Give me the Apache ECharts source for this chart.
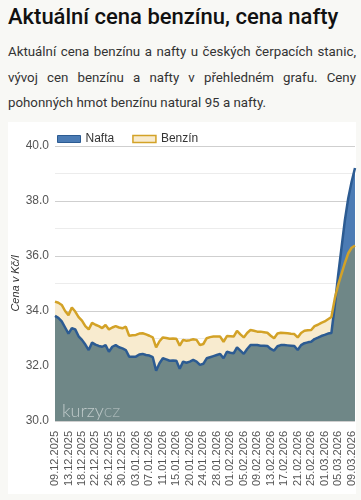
<!DOCTYPE html>
<html>
<head>
<meta charset="utf-8">
<script src="https://cdn.jsdelivr.net/npm/echarts@6/dist/echarts.min.js"></script>
<style>
  html, body { margin: 0; padding: 0; }
  body { width: 361px; height: 500px; background: #f8f8f5; position: relative; overflow: hidden; font-family: Roboto, sans-serif; }
  h1 { position: absolute; left: 8px; top: 0; margin: 0; font-size: 22px; font-weight: 500; color: #111; line-height: 34px; white-space: nowrap; }
  p { position: absolute; left: 8px; top: 39px; width: 348px; margin: 0; font-size: 13.3px; line-height: 25.7px; color: #333; text-align: justify; }
  .card { position: absolute; left: 8px; top: 122px; width: 348px; height: 372px; background: #fff; }
  #chart { position: absolute; left: 0; top: 0; width: 361px; height: 500px; }
</style>
</head>
<body>
<h1>Aktuální cena benzínu, cena nafty</h1>
<p>Aktuální cena benzínu a nafty u českých čerpacích stanic, vývoj cen benzínu a nafty v přehledném grafu. Ceny pohonných hmot benzínu natural 95 a nafty.</p>
<div class="card"></div>
<div id="chart"></div>
<script>
'use strict';

// datumy (kategorie)
var dny = [
  '09.12.2025','10.12.2025','11.12.2025','12.12.2025','13.12.2025','15.12.2025','16.12.2025','17.12.2025','18.12.2025','19.12.2025',
  '20.12.2025','21.12.2025','22.12.2025','23.12.2025','24.12.2025','25.12.2025','26.12.2025','27.12.2025','28.12.2025','29.12.2025',
  '30.12.2025','31.12.2025','01.01.2026','02.01.2026','03.01.2026','04.01.2026','05.01.2026','06.01.2026','07.01.2026','08.01.2026',
  '09.01.2026','10.01.2026','11.01.2026','12.01.2026','13.01.2026','14.01.2026','15.01.2026','16.01.2026','17.01.2026','19.01.2026',
  '20.01.2026','21.01.2026','22.01.2026','23.01.2026','24.01.2026','25.01.2026','26.01.2026','27.01.2026','28.01.2026','29.01.2026',
  '30.01.2026','31.01.2026','01.02.2026','02.02.2026','03.02.2026','04.02.2026','05.02.2026','06.02.2026','07.02.2026','08.02.2026',
  '09.02.2026','10.02.2026','11.02.2026','12.02.2026','13.02.2026','14.02.2026','15.02.2026','16.02.2026','17.02.2026','18.02.2026',
  '19.02.2026','20.02.2026','21.02.2026','22.02.2026','23.02.2026','24.02.2026','25.02.2026','26.02.2026','27.02.2026','28.02.2026',
  '01.03.2026','02.03.2026','03.03.2026','04.03.2026','05.03.2026','06.03.2026','07.03.2026','08.03.2026','09.03.2026','10.03.2026'
];

var benzin = [
  34.34,34.30,34.22,34.00,33.85,34.13,33.98,33.78,33.65,33.45,
  33.33,33.57,33.50,33.45,33.38,33.49,33.33,33.40,33.45,33.40,
  33.37,33.43,33.10,33.12,33.13,33.18,33.19,33.15,33.10,33.04,
  32.68,32.90,33.04,33.02,32.99,33.00,32.99,32.74,32.95,32.92,
  32.94,32.97,32.95,32.76,32.80,33.01,33.05,33.07,33.07,33.07,
  32.88,33.09,33.08,33.07,33.28,33.15,33.04,33.20,33.31,33.28,
  33.25,33.25,33.23,33.21,33.10,33.01,33.18,33.21,33.20,33.19,
  33.17,33.16,33.04,33.20,33.28,33.30,33.31,33.45,33.50,33.57,
  33.62,33.70,33.78,34.45,34.95,35.35,35.75,36.10,36.30,36.38
];

var nafta = [
  33.82,33.75,33.62,33.40,33.18,33.38,33.33,33.08,32.95,32.78,
  32.58,32.85,32.78,32.73,32.70,32.76,32.52,32.70,32.76,32.68,
  32.64,32.58,32.34,32.34,32.34,32.42,32.44,32.40,32.38,32.32,
  31.83,32.10,32.28,32.24,32.19,32.20,32.19,31.90,32.16,32.12,
  32.16,32.22,32.16,32.04,32.08,32.28,32.32,32.36,32.40,32.44,
  32.28,32.52,32.48,32.46,32.68,32.56,32.44,32.62,32.76,32.76,
  32.76,32.74,32.74,32.73,32.62,32.56,32.72,32.76,32.76,32.75,
  32.74,32.73,32.58,32.76,32.83,32.86,32.88,32.98,33.03,33.09,
  33.13,33.18,33.20,34.20,35.30,36.30,37.30,38.10,38.70,39.20
];

// spodni cast (kde se obe plochy prekryvaji)
var spodek = nafta.map(function (v, i) { return Math.min(v, benzin[i]); });

var modra = '#4b7bb4', modraCara = '#2c5b92';
var zluta = '#d3a227', bezova = '#f8ebcf', seda = '#6f8787';

var myChart = echarts.init(document.getElementById('chart'));
var option = {
    animation: false,
    legend: {
        left: 52,
        top: 128,
        itemWidth: 23,
        itemHeight: 7,
        itemGap: 18,
        textStyle: { fontSize: 12, color: '#333', fontFamily: 'Liberation Sans, Arial, sans-serif' },
        data: [
            { name: 'Nafta', icon: 'rect', itemStyle: { color: modra, borderColor: modraCara, borderWidth: 1 } },
            { name: 'Benzín', icon: 'rect', itemStyle: { color: bezova, borderColor: zluta, borderWidth: 1.5 } }
        ]
    },
    grid: { left: 55, right: 6, top: 146, bottom: 79 },
    xAxis: {
        type: 'category',
        data: dny,
        boundaryGap: false,
        axisLine: { show: false },
        axisTick: { show: false },
        axisLabel: {
            rotate: 90,
            interval: 3,
            margin: 10,
            fontSize: 11,
            color: '#555',
            fontFamily: 'Liberation Sans, Arial, sans-serif'
        }
    },
    yAxis: {
        type: 'value',
        min: 30,
        max: 40,
        interval: 2,
        name: 'Cena v Kč/l',
        nameLocation: 'middle',
        nameGap: 34,
        nameMoveOverlap: false,
        nameTextStyle: { fontStyle: 'italic', fontSize: 11, color: '#333', fontFamily: 'Liberation Sans, Arial, sans-serif' },
        axisLine: { show: false },
        axisTick: { show: false },
        axisLabel: {
            margin: 6,
            fontSize: 12,
            color: '#555',
            fontFamily: 'Liberation Sans, Arial, sans-serif',
            formatter: function (v) { return v.toFixed(1); }
        },
        splitLine: { lineStyle: { color: '#cfcfcf', width: 1 } },
        minorTick: { show: false, splitNumber: 2 },
        minorSplitLine: { show: true, lineStyle: { color: '#ececec', width: 1 } }
    },
    graphic: [{
        type: 'text',
        left: 62,
        top: 402,
        z: 20,
        style: {
            text: '{a|kurzy}{b|cz}',
            rich: {
                a: { fontSize: 18, fontWeight: 300, fontFamily: 'Lato, Open Sans, sans-serif', fill: 'rgba(255,255,255,0.55)' },
                b: { fontSize: 18, fontWeight: 300, fontFamily: 'Lato, Open Sans, sans-serif', fill: 'rgba(255,255,255,0.38)' }
            }
        }
    }],
    series: [
        {
            name: 'Nafta', type: 'line', data: nafta, symbol: 'none', z: 1, silent: true,
            lineStyle: { width: 0 },
            areaStyle: { color: modra, opacity: 1, origin: 'start' }
        },
        {
            name: 'Benzín', type: 'line', data: benzin, symbol: 'none', z: 2, silent: true,
            lineStyle: { width: 0 },
            areaStyle: { color: bezova, opacity: 1, origin: 'start' }
        },
        {
            name: 'spodek', type: 'line', data: spodek, symbol: 'none', z: 3, silent: true,
            lineStyle: { width: 0 },
            areaStyle: { color: seda, opacity: 1, origin: 'start' }
        },
        {
            name: 'Nafta', type: 'line', data: nafta, symbol: 'none', z: 4,
            lineStyle: { color: modraCara, width: 2.5 },
            itemStyle: { color: modra }
        },
        {
            name: 'Benzín', type: 'line', data: benzin, symbol: 'none', z: 5,
            lineStyle: { color: zluta, width: 2.5 },
            itemStyle: { color: zluta }
        }
    ]
};
myChart.setOption(option);
</script>
</body>
</html>
